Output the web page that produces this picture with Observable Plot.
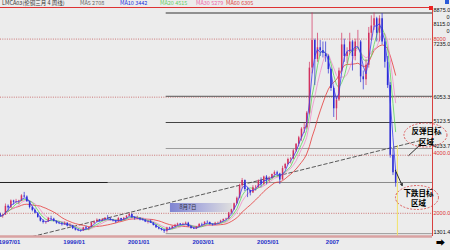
<!DOCTYPE html>
<html><head><meta charset="utf-8">
<script src="https://cdn.jsdelivr.net/npm/d3@7"></script>
<script src="https://cdn.jsdelivr.net/npm/@observablehq/plot@0.6"></script>
<style>
html,body{margin:0;padding:0;background:#ececec;}
#wrap{position:relative;width:450px;height:250px;overflow:hidden;background:#ececec;font-family:"Noto Sans CJK SC","DejaVu Sans",sans-serif;}
#hdr{position:absolute;left:0;top:0;width:432px;height:7px;border-bottom:1px solid #d33;font-size:5.5px;line-height:7px;white-space:nowrap;}
#hdr span{position:absolute;top:0;}
.ico{position:absolute;}
</style></head><body>
<div id="wrap"><div id="chart"></div>
<div id="hdr">
<span style="left:2px;color:#333">LMCA03(伦铜三月 4 周线)</span>
<span style="left:80px;color:#666">MA5 2708</span>
<span style="left:120px;color:#2233dd">MA10 3442</span>
<span style="left:160px;color:#66cc66">MA20 4515</span>
<span style="left:196px;color:#ee66aa">MA30 5279</span>
<span style="left:226px;color:#dd4444">MA60 6305</span>
</div>
<div class="ico" style="left:429px;top:6px;width:4px;height:4px;background:#e22;"></div>
<div class="ico" style="left:445px;top:0px;width:4px;height:4px;background:#2a5ad8;"></div>
<div class="ico" style="left:436px;top:238px;font-size:9px;line-height:9px;color:#000;">➡</div>
</div>
<script>
// monthly bars, first month 1996-09
const opens  = [1980,1900,1940,2240, 2180,2420,2380,2400,2420,2600,2560,2400,2200,2100,2000,1850,
 1730,1680,1700,1820,1800,1720,1660,1640,1610,1650,1560,1570, 1470,1420,1400,1390,1500,1460,1510,1660,1700,1760,1730,1790,
 1830,1800,1760,1740,1700,1820,1760,1830,1900,1960,1850,1820, 1820,1780,1760,1700,1720,1660,1580,1500,1460,1420,1380,1490,
 1470,1540,1590,1630,1600,1620,1660,1540,1480,1460,1530,1610, 1600,1690,1680,1610,1600,1660,1670,1730,1790,1800,2010,2120,
 2330,2520,2950,3130,2820,2780,2700,2880,2900,3120,3000,3250, 3150,3200,3340,3400,3350,3150,3540,3680,3850,3870,4150,4380,
 4600,4900,4950,5450,7000,7950,7300,7700,7600,7500,7400,6950, 6300,5600,5900,6900,7800,7400,7550,7900,7400,7900,7900,6700,
 6600,7100,8200,8450,8700,8200,8700,7900,7200,6400,4000,3400];
const highs  = [2010,1960,2320,2290, 2460,2450,2480,2450,2640,2720,2600,2420,2240,2150,2020,1880,
 1780,1720,1860,1900,1830,1740,1700,1690,1700,1680,1640,1580, 1500,1460,1430,1520,1560,1520,1690,1730,1810,1790,1810,1850,
 1920,1840,1790,1760,1860,1830,1860,1920,2000,1990,1880,1900, 1850,1820,1790,1740,1770,1680,1610,1530,1480,1440,1520,1520,
 1560,1620,1660,1650,1660,1700,1690,1560,1520,1540,1650,1660, 1710,1740,1700,1640,1690,1700,1760,1800,1830,2030,2140,2350,
 2560,3000,3200,3150,2880,2800,2950,2960,3150,3220,3280,3300, 3260,3350,3460,3450,3380,3620,3720,3900,3920,4200,4400,4650,
 4950,5100,5500,7200,8900,8000,8200,7950,7900,7900,7450,7000, 6350,6000,7000,8200,8000,7700,8200,7950,8000,8300,7950,6900,
 7300,8400,8800,8900,8750,8800,8880,8000,7400,6500,4200,3500];
const lows   = [1870,1830,1930,2080, 2170,2290,2330,2300,2400,2530,2380,2150,2050,1980,1840,1700,
 1630,1620,1690,1760,1700,1620,1610,1560,1580,1530,1530,1440, 1390,1370,1350,1380,1450,1400,1500,1620,1690,1700,1710,1740,
 1780,1740,1700,1650,1690,1720,1750,1800,1880,1820,1760,1780, 1740,1730,1680,1630,1650,1560,1480,1430,1390,1310,1320,1430,
 1450,1500,1560,1570,1570,1600,1520,1450,1440,1440,1520,1560, 1590,1640,1590,1560,1590,1620,1660,1700,1740,1790,1980,2100,
 2300,2500,2840,2750,2540,2600,2690,2760,2860,2900,2950,2980, 3030,3180,3280,3280,2990,3140,3500,3650,3700,3850,4100,4280,
 4480,4750,4900,5400,6800,6400,7200,7400,7350,7200,6800,6200, 5300,5200,5850,6850,7200,7150,7450,6900,7250,7700,6500,6250,
 6400,7000,7950,8300,7900,7900,7800,7000,6300,3900,3300,2900];
const closes = [1900,1940,2240,2180, 2420,2380,2400,2420,2600,2560,2400,2200,2100,2000,1850,1730,
 1680,1700,1820,1800,1720,1660,1640,1610,1650,1560,1570,1470, 1420,1400,1390,1500,1460,1510,1660,1700,1760,1730,1790,1830,
 1800,1760,1740,1700,1820,1760,1830,1900,1960,1850,1820,1820, 1780,1760,1700,1720,1660,1580,1500,1460,1420,1380,1490,1470,
 1540,1590,1630,1600,1620,1660,1540,1480,1460,1530,1610,1600, 1690,1680,1610,1600,1660,1670,1730,1790,1800,2010,2120,2330,
 2520,2950,3130,2820,2780,2700,2880,2900,3120,3000,3250,3150, 3200,3340,3400,3350,3150,3540,3680,3850,3870,4150,4380,4600,
 4900,4950,5450,7000,7950,7300,7700,7600,7500,7400,6950,6300, 5600,5900,6900,7800,7400,7550,7900,7400,7900,7900,6700,6600,
 7100,8200,8450,8700,8200,8700,7900,7200,6400,4000,3400,3050];

const gridLevels = [2000, 4000, 6000, 8000];
const fibLevels = [8898, 6030, 5127, 4232, 3061, 1300];
const fibColors = ["#333", "#555", "#444", "#9a9a9a", "#8a8a8a", "#9a9a9a"];
const tickDates = ["1997-01-01","1999-01-01","2001-01-01","2003-01-01","2005-01-01","2007-01-01"];
const tickLabels = ["1997/01","1999/01","2001/01","2003/01","2005/01","2007"];
const rightLabels = [
  {t:"8875.0", v:8984, a:"start", c:"#111"}, {t:"0", v:8743, a:"end", c:"#111"},
  {t:"8115.0", v:8502, a:"start", c:"#111"}, {t:"0", v:8261, a:"end", c:"#111"},
  {t:"8000", v:7986, a:"start", c:"#d33"}, {t:"7235.0", v:7814, a:"start", c:"#111"},
  {t:"6053.3", v:5988, a:"start", c:"#111"}, {t:"5123.5", v:5180, a:"start", c:"#111"},
  {t:"4233.7", v:4300, a:"start", c:"#111"}, {t:"4000.0", v:4059, a:"start", c:"#d33"},
  {t:"2000.0", v:1993, a:"start", c:"#d33"}, {t:"1301.4", v:1338, a:"start", c:"#111"}];
const trend = [{date:"1997-09-17", v:1201}, {date:"2009-09-22", v:4507}];
const notes = [{date:"2009-11-28", v:4820, t:"反弹目标"}, {date:"2009-11-28", v:4430, t:"区域"},
               {date:"2009-08-30", v:2682, t:"下跌目标"}, {date:"2009-08-30", v:2338, t:"区域"}];
const ellipses = [{date:"2009-11-23", v:4680}, {date:"2009-08-19", v:2527}];
const arrows = [{d1:"2009-05-12", v1:3991, d2:"2009-09-22", v2:4369},
                {d1:"2008-12-13", v1:3474, d2:"2009-02-27", v2:2957}];
const box = {d1:"2001-12-25", d2:"2003-11-26", v1:2028, v2:2338, t:"8月7日", td:"2002-07-17"};
const cursorDate = "2009-01-04";

const D = s => new Date(s);
const xStart = D("1996-09-20"), xEnd = D("2010-02-05");
const fibStart = D("2001-11-07"), blackEnd = D("2000-01-23");
const bars = opens.map((o, i) => ({
  date: d3.utcMonth.offset(new Date(Date.UTC(1996, 8, 15)), i),
  open: o, high: highs[i], low: lows[i], close: closes[i]}));
const up = "#d2305e", down = "#2b2bd4";
const isUp = d => d.close >= d.open;

const chart = Plot.plot({
  width: 450, height: 250,
  marginLeft: 0, marginRight: 18, marginTop: 9, marginBottom: 14,
  style: {background: "transparent", fontFamily: "Liberation Sans, DejaVu Sans, sans-serif"},
  x: {type: "utc", domain: [xStart, xEnd], axis: null},
  y: {domain: [1201, 9019], axis: null},
  marks: [
    Plot.ruleY(gridLevels, {stroke: "#c86a6a", strokeDasharray: "1,1.3", strokeWidth: 0.9}),
    Plot.ruleY([fibLevels[4]], {x1: () => xStart, x2: () => blackEnd, stroke: "#222", strokeWidth: 1}),
    ...fibLevels.map((v, i) => Plot.ruleY([v], {x1: () => (i === 4 ? blackEnd : fibStart), x2: () => xEnd, stroke: fibColors[i], strokeWidth: 1})),
    Plot.ruleX([D(cursorDate)], {y1: 1201, y2: 4332, stroke: "#f2e46a", strokeWidth: 1}),
    Plot.line(trend, {x: d => D(d.date), y: "v", stroke: "#333", strokeWidth: 0.8, strokeDasharray: "3.5,2.5"}),
    Plot.lineY(bars, Plot.windowY({k: 14, anchor: "end"}, {x: "date", y: "close", stroke: "#e63a3a", strokeWidth: 0.8})),
    Plot.lineY(bars, Plot.windowY({k: 7, anchor: "end"}, {x: "date", y: "close", stroke: "#f08cc8", strokeWidth: 0.8})),
    Plot.lineY(bars, Plot.windowY({k: 5, anchor: "end"}, {x: "date", y: "close", stroke: "#5cd65c", strokeWidth: 0.8})),
    Plot.ruleX(bars, {filter: isUp, x: "date", y1: "low", y2: "high", stroke: up, strokeWidth: 0.7}),
    Plot.ruleX(bars, {filter: d => !isUp(d), x: "date", y1: "low", y2: "high", stroke: down, strokeWidth: 0.7}),
    Plot.ruleX(bars, {filter: isUp, x: "date", y1: "open", y2: "close", stroke: up, strokeWidth: 1.5}),
    Plot.ruleX(bars, {filter: d => !isUp(d), x: "date", y1: "open", y2: "close", stroke: down, strokeWidth: 1.5}),
    Plot.lineY(bars, Plot.windowY({k: 3, anchor: "end"}, {x: "date", y: "close", stroke: "#3a3aee", strokeWidth: 0.8})),
    Plot.ruleY([1201], {stroke: "#d9a2a2", strokeWidth: 2.5}),
    Plot.ruleX([xEnd], {stroke: "#d84040", strokeWidth: 1}),
    Plot.text(rightLabels, {x: () => xEnd, y: "v", text: "t", fill: "c", textAnchor: "start", dx: 1, fontSize: 5.5,
      filter: d => d.a === "start"}),
    Plot.text(rightLabels, {x: () => xEnd, y: "v", text: "t", fill: "c", textAnchor: "end", dx: 17, fontSize: 5.5,
      filter: d => d.a === "end"}),
    Plot.arrow(arrows, {x1: d => D(d.d1), y1: "v1", x2: d => D(d.d2), y2: "v2", stroke: "#000", strokeWidth: 0.8, headLength: 4}),
    Plot.text(notes, {x: d => D(d.date), y: "v", text: "t", fill: "#000", fontSize: 7.5, fontWeight: "bold",
      fontFamily: "Noto Sans CJK SC"}),
    Plot.axisX(tickDates.map(D), {tickSize: 0, tickPadding: 3, fill: "#2630c8", fontSize: 6, fontWeight: "bold",
      tickFormat: d => tickLabels[tickDates.findIndex(s => +D(s) === +d)]})
  ]
});
document.getElementById("chart").appendChild(chart);

const sx = chart.scale("x"), sy = chart.scale("y");
const svg = d3.select(chart);
const defs = svg.insert("defs", ":first-child");
const g = defs.append("linearGradient").attr("id", "boxgrad");
g.append("stop").attr("offset", "0%").attr("stop-color", "#7f84d2");
g.append("stop").attr("offset", "55%").attr("stop-color", "#b4b6de");
g.append("stop").attr("offset", "100%").attr("stop-color", "#dedede");
const bx1 = sx.apply(D(box.d1)), bx2 = sx.apply(D(box.d2));
const by1 = sy.apply(box.v2), by2 = sy.apply(box.v1);
const boxG = svg.insert("g", "g[aria-label='line']");
boxG.append("rect").attr("x", bx1).attr("y", by1).attr("width", bx2 - bx1).attr("height", by2 - by1).attr("fill", "url(#boxgrad)");
boxG.append("text").attr("x", sx.apply(D(box.td))).attr("y", (by1 + by2) / 2).attr("dy", "0.35em")
  .attr("text-anchor", "middle").attr("font-size", 5.5).attr("fill", "#334").attr("font-family", "Noto Sans CJK SC").text(box.t);
svg.append("g").selectAll("ellipse").data(ellipses).join("ellipse")
  .attr("cx", d => sx.apply(D(d.date))).attr("cy", d => sy.apply(d.v))
  .attr("rx", 21.5).attr("ry", 12)
  .attr("fill", "none").attr("stroke", "#d83c3c").attr("stroke-width", 0.8).attr("stroke-dasharray", "2,1.5");
</script>
</body></html>
